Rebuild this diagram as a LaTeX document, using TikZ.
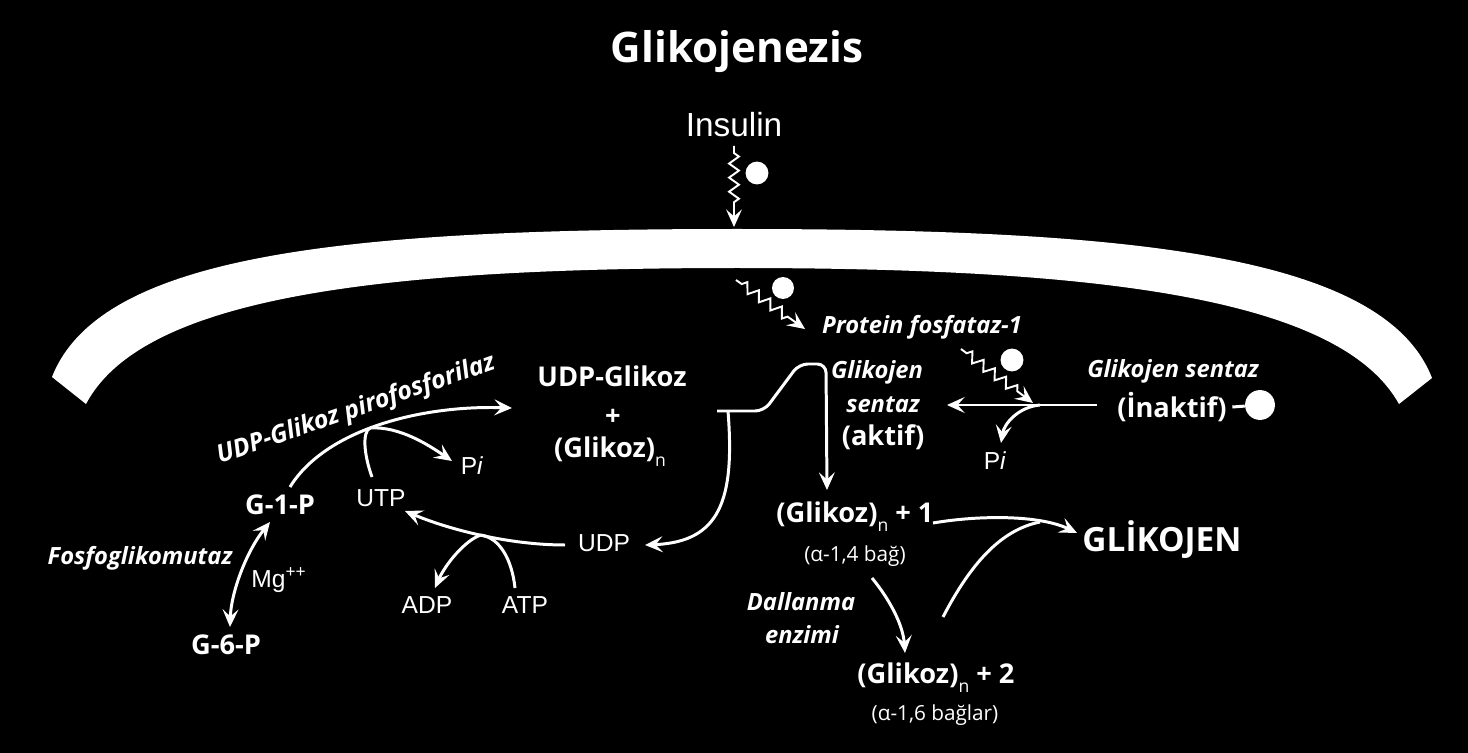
\documentclass[tikz,border=0pt]{standalone}
\usepackage{fontspec}
\setmainfont{Open Sans}
\newfontfamily\arialf{Liberation Sans}
\usetikzlibrary{arrows.meta,decorations.pathmorphing}
\newcommand\glsub{\raisebox{-0.6ex}{\normalfont\fontsize{10}{10}\selectfont n}}
\tikzset{
  every node/.style={text=white, inner sep=0pt},
  title/.style={font=\bfseries\fontsize{24}{26}\selectfont},
  lbl/.style={font=\bfseries\fontsize{15.5}{17}\selectfont},
  enz/.style={font=\bfseries\itshape\fontsize{13.5}{15}\selectfont},
  met/.style={font=\arialf\fontsize{14}{16}\selectfont},
  bond/.style={font=\fontsize{11.8}{13}\selectfont},
  dot/.style={circle, fill=white, minimum size=#1},
  >={Stealth[length=10pt, width=9pt, inset=4pt]},
  flow/.style={draw=white, line width=1.7pt, ->},
  pipe/.style={draw=white, line width=1.7pt},
  zig/.style={draw=white, line width=1.1pt, ->, decorate,
    decoration={zigzag, segment length=8pt, amplitude=2.8pt, pre length=4pt, post length=11pt}}
}
\begin{document}
\begin{tikzpicture}[x=0.02cm, y=-0.02cm]
	\path[use as bounding box, fill=black] (0,0) rectangle (1468,753);

	\node[title] (title) at (737,52) {Glikojenezis};
	\node[met, font=\arialf\fontsize{19}{21}\selectfont] (ins) at (734,125) {Insulin};
	\node[dot=13pt] (insdot) at (757,173) {};
	\coordinate (ins0) at (734,146);
	\coordinate (ins1) at (734,227);
	\draw[zig] (ins0) -- (ins1);

	\fill[white] (52,377) .. controls (100,255) and (340,229) .. (737,229)
		.. controls (1134,229) and (1384,255) .. (1432,378)
		-- (1399,404) .. controls (1340,298) and (1100,268) .. (737,268)
		.. controls (374,268) and (142,298) .. (86,404) -- cycle;

	\node[dot=12.5pt] (ppdot) at (783,288) {};
	\node[enz] (pp1) at (922,327) {Protein fosfataz-1};
	\coordinate (pp0) at (736,280);
	\coordinate (pp1in) at (805,329);
	\draw[zig] (pp0) -- (pp1in);

	\node[enz] (gsi) at (1173,371) {Glikojen sentaz};
	\node[lbl] (ina) at (1172,407) {(İnaktif)};
	\node[dot=17pt] (gsidot) at (1260,405) {};
	\draw[pipe] ([xshift=3pt]ina.east) -- (gsidot);
	\node[dot=13pt] (gsdot) at (1012,360) {};
	\coordinate (gs0) at (961,349);
	\coordinate (gs1) at (1033,403);
	\draw[zig] (gs0) -- (gs1);
	\coordinate (gsr) at (1097,405);
	\coordinate (gsl) at (947,405);
	\coordinate (pjn) at (1040,405);
	\coordinate (pi1in) at (1001,443);
	\draw[flow] (gsr) -- (gsl);
	\draw[flow] (pjn) .. controls (1018,407) and (1004,424) .. (pi1in);
	\node[met] (pi1) at (995,461) {P\textit{i}};

	\node[enz] (gsa1) at (877,372) {Glikojen};
	\node[enz] (gsa2) at (883,405) {sentaz};
	\node[lbl] (gsa3) at (883,437) {(aktif)};

	\node[lbl] (udpg) at (612,376) {UDP-Glikoz};
	\node[lbl] (plus) at (613,417) {+};
	\node[lbl] (glkn) at (610,452) {(Glikoz)\glsub};

	\coordinate (brk0) at (717,411);
	\coordinate (brk1) at (728,411);
	\coordinate (gn1in) at (827,490);
	\draw[flow, rounded corners=5pt] (brk0) -- (764,411) -- (799,364) -- (826,364) -- (gn1in);
	\node[met] (udp) at (604,543) {UDP};
	\coordinate (udpin) at (645,545);
	\draw[flow] (brk1) .. controls (735,500) and (720,542) .. (udpin);

	\node[lbl] (g1p) at (280,505) {G-1-P};
	\node[lbl] (g6p) at (226,645) {G-6-P};
	\node[enz] (fgm) at (140,558) {Fosfoglikomutaz};
	\node[met] (mg) at (279,580) {Mg\textsuperscript{++}};
	\coordinate (g1pb) at (270,522);
	\coordinate (g6pt) at (230,627);
	\draw[flow, <->] (g1pb) .. controls (246,552) and (231,593) .. (g6pt);

	\node[enz, font=\bfseries\itshape\fontsize{14.2}{16}\selectfont, rotate=19] (udpgp) at (356,410) {UDP-Glikoz pirofosforilaz};
	\coordinate (g1pa) at (290,487);
	\coordinate (udpgin) at (512,408);
	\coordinate (utpj) at (370,428);
	\draw[flow] (g1pa) .. controls (325,430) and (420,405) .. (udpgin);
	\node[met] (utp) at (381,498) {UTP};
	\coordinate (utptop) at (372,477);
	\draw[pipe] (utptop) .. controls (364,455) and (362,432) .. (utpj);
	\coordinate (pi2in) at (452,461);
	\draw[flow] (utpj) .. controls (400,426) and (430,446) .. (pi2in);
	\node[met] (pi2) at (472,466) {P\textit{i}};

	\coordinate (udpout) at (565,545);
	\coordinate (atpj) at (481,535);
	\coordinate (utpin) at (405,511);
	\draw[flow] (udpout) .. controls (510,545) and (450,530) .. (utpin);
	\node[met] (adp) at (427,605) {ADP};
	\node[met] (atp) at (525,605) {ATP};
	\coordinate (adpin) at (435,588);
	\coordinate (atptop) at (515,588);
	\draw[flow] (atpj) .. controls (465,540) and (445,565) .. (adpin);
	\draw[pipe] (atptop) .. controls (512,560) and (500,538) .. (atpj);

	\node[lbl] (gn1) at (855,517) {(Glikoz)\glsub\ + 1};
	\node[bond] (b14) at (855,556) {(α-1,4 bağ)};
	\node[lbl, font=\bfseries\fontsize{19}{21}\selectfont] (glk) at (1162,540) {GLİKOJEN};
	\coordinate (gn1out) at (933,523);
	\coordinate (glkin) at (1077,533);
	\draw[flow] (gn1out) .. controls (980,515) and (1040,515) .. (glkin);
	\coordinate (gn2out) at (943,617);
	\coordinate (mrg) at (1040,522);
	\draw[pipe] (gn2out) .. controls (970,565) and (1000,530) .. (mrg);
	\node[enz] (dal1) at (801,602) {Dallanma};
	\node[enz] (dal2) at (802,635) {enzimi};
	\coordinate (b14out) at (872,578);
	\coordinate (gn2in) at (905,653);
	\draw[flow] (b14out) .. controls (890,600) and (903,625) .. (gn2in);
	\node[lbl] (gn2) at (936,678) {(Glikoz)\glsub\ + 2};
	\node[bond] (b16) at (935,715) {(α-1,6 bağlar)};
\end{tikzpicture}
\end{document}
